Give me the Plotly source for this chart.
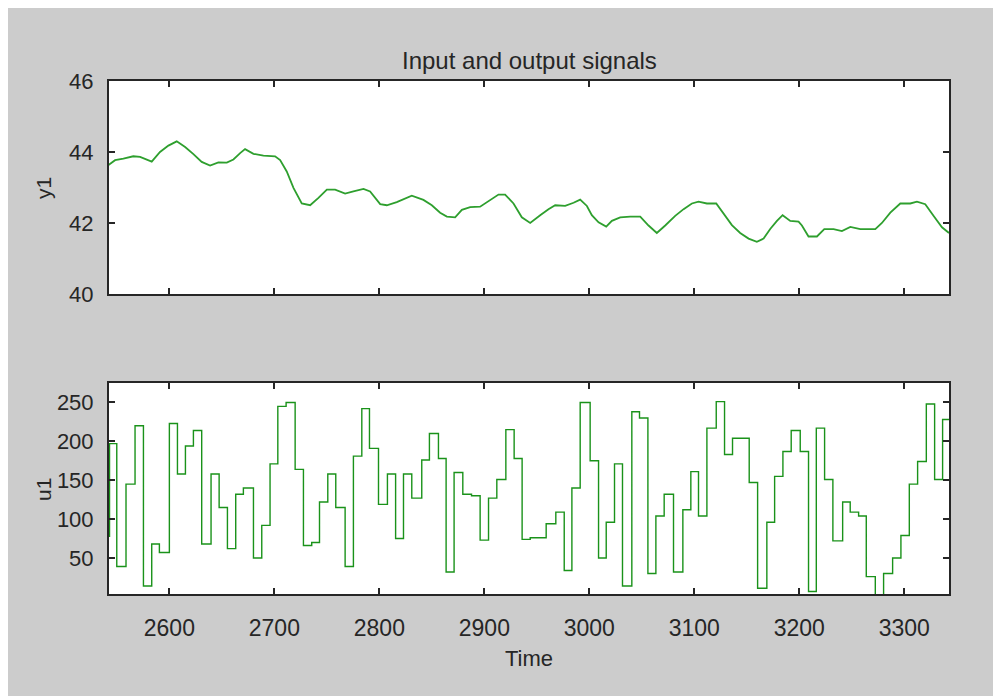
import plotly.graph_objects as go

# ---- data ----
y_time = [2541.9, 2548.3, 2556.2, 2565.6, 2572.1, 2577.0, 2583.2, 2591.1, 2599.1, 2607.0,
          2615.0, 2622.9, 2630.8, 2638.8, 2646.7, 2654.7, 2661.0, 2667.4, 2672.1, 2680.1,
          2689.6, 2700.7, 2705.5, 2711.8, 2718.2, 2726.1, 2734.1, 2742.0, 2750.0, 2757.9,
          2767.4, 2775.3, 2784.9, 2791.2, 2800.8, 2807.1,
          2816.6, 2830.9, 2842.0, 2850.0, 2857.9, 2864.3, 2872.2, 2878.6, 2886.5, 2896.0,
          2905.5, 2913.5, 2919.8, 2927.8, 2935.7, 2943.7, 2953.2, 2961.1, 2967.5, 2977.0,
          2985.0, 2991.3, 2997.7, 3002.4, 3008.8, 3016.1, 3021.5, 3029.4, 3039.0, 3048.5,
          3056.4, 3064.3, 3072.3, 3081.8, 3089.8, 3097.7, 3104.0, 3112.0, 3120.9, 3127.9,
          3135.8, 3143.7, 3151.7, 3159.6, 3166.0, 3172.3, 3178.7, 3184.1, 3191.4, 3199.3,
          3202.5, 3208.8, 3216.8, 3223.8, 3232.7, 3240.6, 3248.6, 3258.1, 3272.4, 3278.7,
          3286.7, 3296.2, 3305.7, 3312.1, 3320.0, 3328.0, 3335.9, 3342.6]
y1_vals = [43.63, 43.77, 43.81, 43.88, 43.86, 43.81, 43.73, 44.00, 44.18, 44.30,
           44.14, 43.94, 43.72, 43.62, 43.71, 43.70, 43.79, 43.97, 44.08, 43.95,
           43.90, 43.88, 43.77, 43.45, 42.99, 42.55, 42.50, 42.71, 42.94, 42.94,
           42.83, 42.89, 42.96, 42.89, 42.53, 42.50,
           42.59, 42.77, 42.65, 42.50, 42.29, 42.18, 42.16, 42.37, 42.45, 42.46,
           42.65, 42.80, 42.80, 42.55, 42.16, 42.00, 42.22, 42.39, 42.50, 42.48,
           42.57, 42.66, 42.48, 42.22, 42.02, 41.90, 42.06, 42.16, 42.18, 42.18,
           41.93, 41.72, 41.93, 42.20, 42.39, 42.55, 42.60, 42.55, 42.55, 42.25,
           41.94, 41.72, 41.56, 41.47, 41.56, 41.83, 42.06, 42.22, 42.06, 42.04,
           41.93, 41.62, 41.62, 41.83, 41.83, 41.77, 41.89, 41.83, 41.83, 42.00,
           42.29, 42.55, 42.55, 42.60, 42.53, 42.20, 41.88, 41.72]

u_time = [2540.0, 2543.0, 2549.9, 2558.7, 2567.3, 2575.3, 2583.2, 2590.5, 2600.0, 2607.7,
          2615.3, 2622.9, 2630.8, 2639.7, 2647.4, 2655.3, 2663.2, 2670.5, 2680.1, 2688.0,
          2695.9, 2703.3, 2711.2, 2719.8, 2727.7, 2735.6, 2743.0, 2750.9, 2758.5, 2767.4,
          2775.3, 2783.3, 2790.6, 2799.2, 2807.7, 2815.5, 2823.0, 2830.9, 2840.4, 2847.7,
          2856.3, 2863.6, 2871.2, 2879.5, 2887.8, 2896.0, 2904.0, 2911.9, 2920.5, 2928.4,
          2936.0, 2943.7, 2958.9, 2968.1, 2976.1, 2983.4, 2991.3, 3000.8, 3008.8, 3016.1,
          3024.0, 3031.6, 3040.5, 3047.8, 3055.8, 3063.4, 3071.3, 3080.2, 3089.1, 3096.7,
          3104.0, 3112.0, 3120.9, 3128.8, 3136.4, 3152.3, 3160.3, 3169.1, 3176.5, 3184.4,
          3192.3, 3200.9, 3208.8, 3216.2, 3224.1, 3232.0, 3241.3, 3248.5, 3256.5, 3263.8,
          3272.4, 3280.3, 3288.9, 3296.8, 3304.8, 3312.7, 3321.0, 3328.9, 3336.5, 3345.0]
u1_vals = [78, 197, 39, 145, 220, 14, 68, 57, 223, 158,
           194, 214, 68, 158, 115, 62, 132, 140, 50, 92,
           171, 245, 250, 164, 66, 70, 122, 158, 115, 39,
           181, 242, 191, 119, 158, 75, 158, 127, 176, 210,
           178, 32, 160, 132, 130, 73, 127, 151, 215, 178,
           74, 76, 94, 109, 34, 140, 250, 175, 50, 96,
           171, 14, 238, 230, 30, 104, 132, 32, 112, 161,
           104, 217, 251, 183, 204, 147, 11, 96, 155, 187,
           214, 187, 7, 217, 151, 72, 122, 109, 104, 26,
           2, 30, 50, 79, 145, 174, 248, 151, 228, 228]

x_ticks = [2600, 2700, 2800, 2900, 3000, 3100, 3200, 3300]
y1_ticks = [40, 42, 44, 46]
u1_ticks = [50, 100, 150, 200, 250]

# page body adds an 8px margin; figure fills the rest of the 1001x696 window
OFF = 8
W, H = 1001 - OFF, 696 - OFF


def px(x):
    return (x - OFF) / W


def py(y):
    return 1 - (y - OFF) / H


FONT = "Liberation Sans, Arial, Helvetica, sans-serif"
TXT = "#262626"

fig = go.Figure()
fig.add_trace(go.Scatter(x=y_time, y=y1_vals, mode="lines",
                         line=dict(color="#2e9f2e", width=1.8),
                         xaxis="x", yaxis="y", showlegend=False))
fig.add_trace(go.Scatter(x=u_time, y=u1_vals, mode="lines", line_shape="hv",
                         line=dict(color="#1a921a", width=1.4),
                         xaxis="x2", yaxis="y2", showlegend=False))

xdom = [px(109), px(949)]
axis_common = dict(showline=True, linecolor=TXT, linewidth=2, mirror="ticks",
                   ticks="inside", ticklen=6, tickwidth=1.5, tickcolor=TXT,
                   showgrid=False, zeroline=False, automargin=False,
                   tickfont=dict(family=FONT, size=22, color=TXT))

fig.update_layout(
    width=W, height=H,
    margin=dict(l=0, r=0, t=0, b=0),
    paper_bgcolor="#cccccc", plot_bgcolor="white",
    font=dict(family=FONT, size=22, color=TXT),
    xaxis=dict(domain=xdom, anchor="y", range=[2542.5, 3342.6], tickvals=x_ticks,
               showticklabels=False, **axis_common),
    yaxis=dict(domain=[py(294), py(81)], anchor="x", range=[40, 46],
               tickvals=y1_ticks, ticklabelstandoff=9, **axis_common),
    xaxis2=dict(domain=xdom, anchor="y2", range=[2542.5, 3342.6], tickvals=x_ticks,
                ticklabelstandoff=12, tickfont=dict(family=FONT, size=23, color=TXT),
                **{k: v for k, v in axis_common.items() if k != "tickfont"}),
    yaxis2=dict(domain=[py(594), py(383)], anchor="x2", range=[3.7, 275],
                tickvals=u1_ticks, ticklabelstandoff=9, **axis_common),
    annotations=[
        dict(text="Input and output signals", xref="paper", yref="paper",
             x=(xdom[0] + xdom[1]) / 2, y=py(60), xanchor="center", yanchor="middle",
             showarrow=False, font=dict(family=FONT, size=24, color=TXT)),
        dict(text="Time", xref="paper", yref="paper",
             x=(xdom[0] + xdom[1]) / 2, y=py(658), xanchor="center", yanchor="middle",
             showarrow=False, font=dict(family=FONT, size=22, color=TXT)),
        dict(text="y1", xref="paper", yref="paper", x=px(43), y=py(188),
             xanchor="center", yanchor="middle", textangle=-90, showarrow=False,
             font=dict(family=FONT, size=21, color=TXT)),
        dict(text="u1", xref="paper", yref="paper", x=px(43), y=py(490),
             xanchor="center", yanchor="middle", textangle=-90, showarrow=False,
             font=dict(family=FONT, size=21, color=TXT)),
    ],
)

fig.write_html("out.html")
